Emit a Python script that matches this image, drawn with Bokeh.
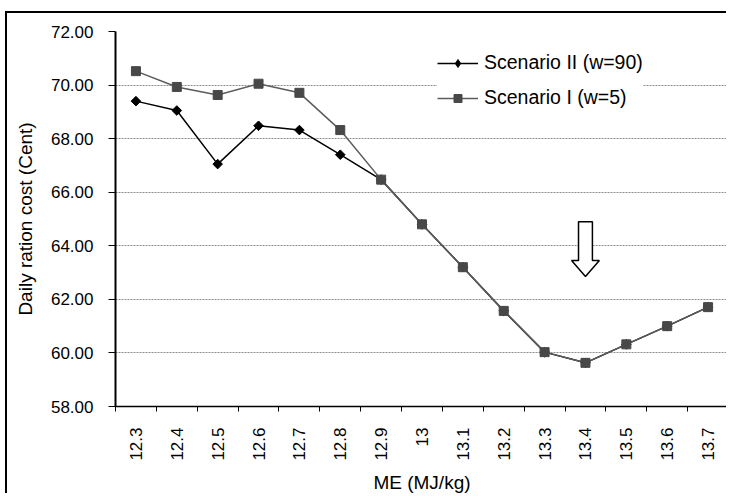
import math
from bokeh.plotting import figure
from bokeh.models import (Range1d, FixedTicker, NumeralTickFormatter, Legend, LegendItem,
                          ColumnDataSource)
from bokeh.embed import file_html
from bokeh.resources import INLINE

# ---- data ----
categories = ["12.3", "12.4", "12.5", "12.6", "12.7", "12.8", "12.9", "13",
              "13.1", "13.2", "13.3", "13.4", "13.5", "13.6", "13.7"]
scenario_II = [69.40, 69.05, 67.05, 68.48, 68.32, 67.40, 66.47, 64.80,
               63.20, 61.57, 60.03, 59.63, 60.32, 61.00, 61.71]
scenario_I = [70.52, 69.93, 69.63, 70.05, 69.71, 68.32, 66.47, 64.80,
              63.20, 61.57, 60.03, 59.63, 60.32, 61.00, 61.71]
y_ticks = [58, 60, 62, 64, 66, 68, 70, 72]
series_names = ["Scenario II (w=90)", "Scenario I (w=5)"]
arrow_category = "13.4"
arrow_top_value = 64.9
arrow_head_value = 63.45
arrow_tip_value = 62.85

FONT = "Liberation Sans"
TICK_FS = "17px"

n = len(categories)
xc = [i + 0.5 for i in range(n)]  # category centres on a numeric scale

W, H = 721, 482
p = figure(width=W, height=H, output_backend="svg", toolbar_location=None,
           x_range=Range1d(0, n), y_range=Range1d(y_ticks[0], y_ticks[-1]),
           min_border_left=108, min_border_top=18, min_border_bottom=85,
           min_border_right=0)
# outer chart border: only its left and top edges fall inside the picture
p.styles = {"border-left": "2px solid black", "border-top": "2px solid black",
            "margin-left": "5px", "margin-top": "11px"}
p.outline_line_color = None
p.background_fill_color = "white"
p.border_fill_color = "white"

# x axis: labels at category centres, ticks at category boundaries
xa = p.xaxis[0]
xa.ticker = FixedTicker(ticks=xc, minor_ticks=list(range(n + 1)))
xa.major_label_overrides = {x: c for x, c in zip(xc, categories)}
xa.major_tick_out = 0
xa.major_tick_in = 0
xa.minor_tick_out = 5
xa.minor_tick_in = 0
xa.minor_tick_line_color = "black"
xa.minor_tick_line_width = 1
xa.axis_line_color = "black"
xa.axis_line_width = 1.5
xa.major_label_orientation = math.pi / 2
xa.major_label_standoff = 16
xa.major_label_text_font = FONT
xa.major_label_text_font_size = TICK_FS
xa.major_label_text_color = "black"
xa.axis_label = "ME (MJ/kg)"
xa.axis_label_text_font = FONT
xa.axis_label_text_font_size = "19px"
xa.axis_label_text_font_style = "normal"
xa.axis_label_text_color = "black"
xa.axis_label_standoff = 8

ya = p.yaxis[0]
ya.ticker = FixedTicker(ticks=y_ticks, minor_ticks=[])
ya.formatter = NumeralTickFormatter(format="0.00")
ya.major_tick_out = 7
ya.major_tick_in = 0
ya.major_tick_line_color = "black"
ya.major_tick_line_width = 1
ya.minor_tick_out = 0
ya.minor_tick_in = 0
ya.axis_line_color = "black"
ya.axis_line_width = 2
ya.major_label_standoff = 15
ya.major_label_text_font = FONT
ya.major_label_text_font_size = TICK_FS
ya.major_label_text_color = "black"
ya.axis_label = "Daily ration cost (Cent)"
ya.axis_label_text_font = FONT
ya.axis_label_text_font_size = "19px"
ya.axis_label_text_font_style = "normal"
ya.axis_label_text_color = "black"
ya.axis_label_standoff = 12

p.xgrid.grid_line_color = None
p.ygrid.ticker = FixedTicker(ticks=y_ticks)
p.ygrid.grid_line_color = "#8c8c8c"
p.ygrid.grid_line_dash = "2 1"
p.ygrid.grid_line_width = 1

src2 = ColumnDataSource(dict(x=xc, y=scenario_II))
src1 = ColumnDataSource(dict(x=xc, y=scenario_I))

l2 = p.line("x", "y", source=src2, line_color="black", line_width=1.5)
m2 = p.scatter("x", "y", source=src2, marker="square", angle=math.pi / 4, size=6.8,
               fill_color="black", line_color="black")
l1 = p.line("x", "y", source=src1, line_color="#5c5c5c", line_width=1.5)
m1 = p.scatter("x", "y", source=src1, marker="square", size=9,
               fill_color="#484848", line_color="#484848")
# legend sample for the diamond (legend glyphs ignore marker rotation)
m2_key = p.scatter(x=[float("nan")], y=[float("nan")], marker="diamond", size=13,
                   fill_color="black", line_color="black")

# downward block arrow pointing at the minimum
ai = categories.index(arrow_category) + 0.5
shaft, head = 0.17, 0.34
ax = [ai - shaft, ai + shaft, ai + shaft, ai + head, ai, ai - head, ai - shaft]
ay = [arrow_top_value, arrow_top_value, arrow_head_value, arrow_head_value,
      arrow_tip_value, arrow_head_value, arrow_head_value]
p.patch(ax, ay, fill_color="white", line_color="black", line_width=1.5)

legend = Legend(items=[LegendItem(label=series_names[0], renderers=[l2, m2_key]),
                       LegendItem(label=series_names[1], renderers=[l1, m1])],
                location=(322, 297))
legend.label_text_font = FONT
legend.label_text_font_size = "19.5px"
legend.label_text_color = "black"
legend.glyph_width = 41
legend.glyph_height = 20
legend.label_height = 20
legend.spacing = 12
legend.padding = 10
legend.margin = 0
legend.label_standoff = 6
legend.border_line_color = None
legend.background_fill_color = "white"
legend.background_fill_alpha = 1
p.add_layout(legend)

open("out.html", "w").write(file_html(p, INLINE))
